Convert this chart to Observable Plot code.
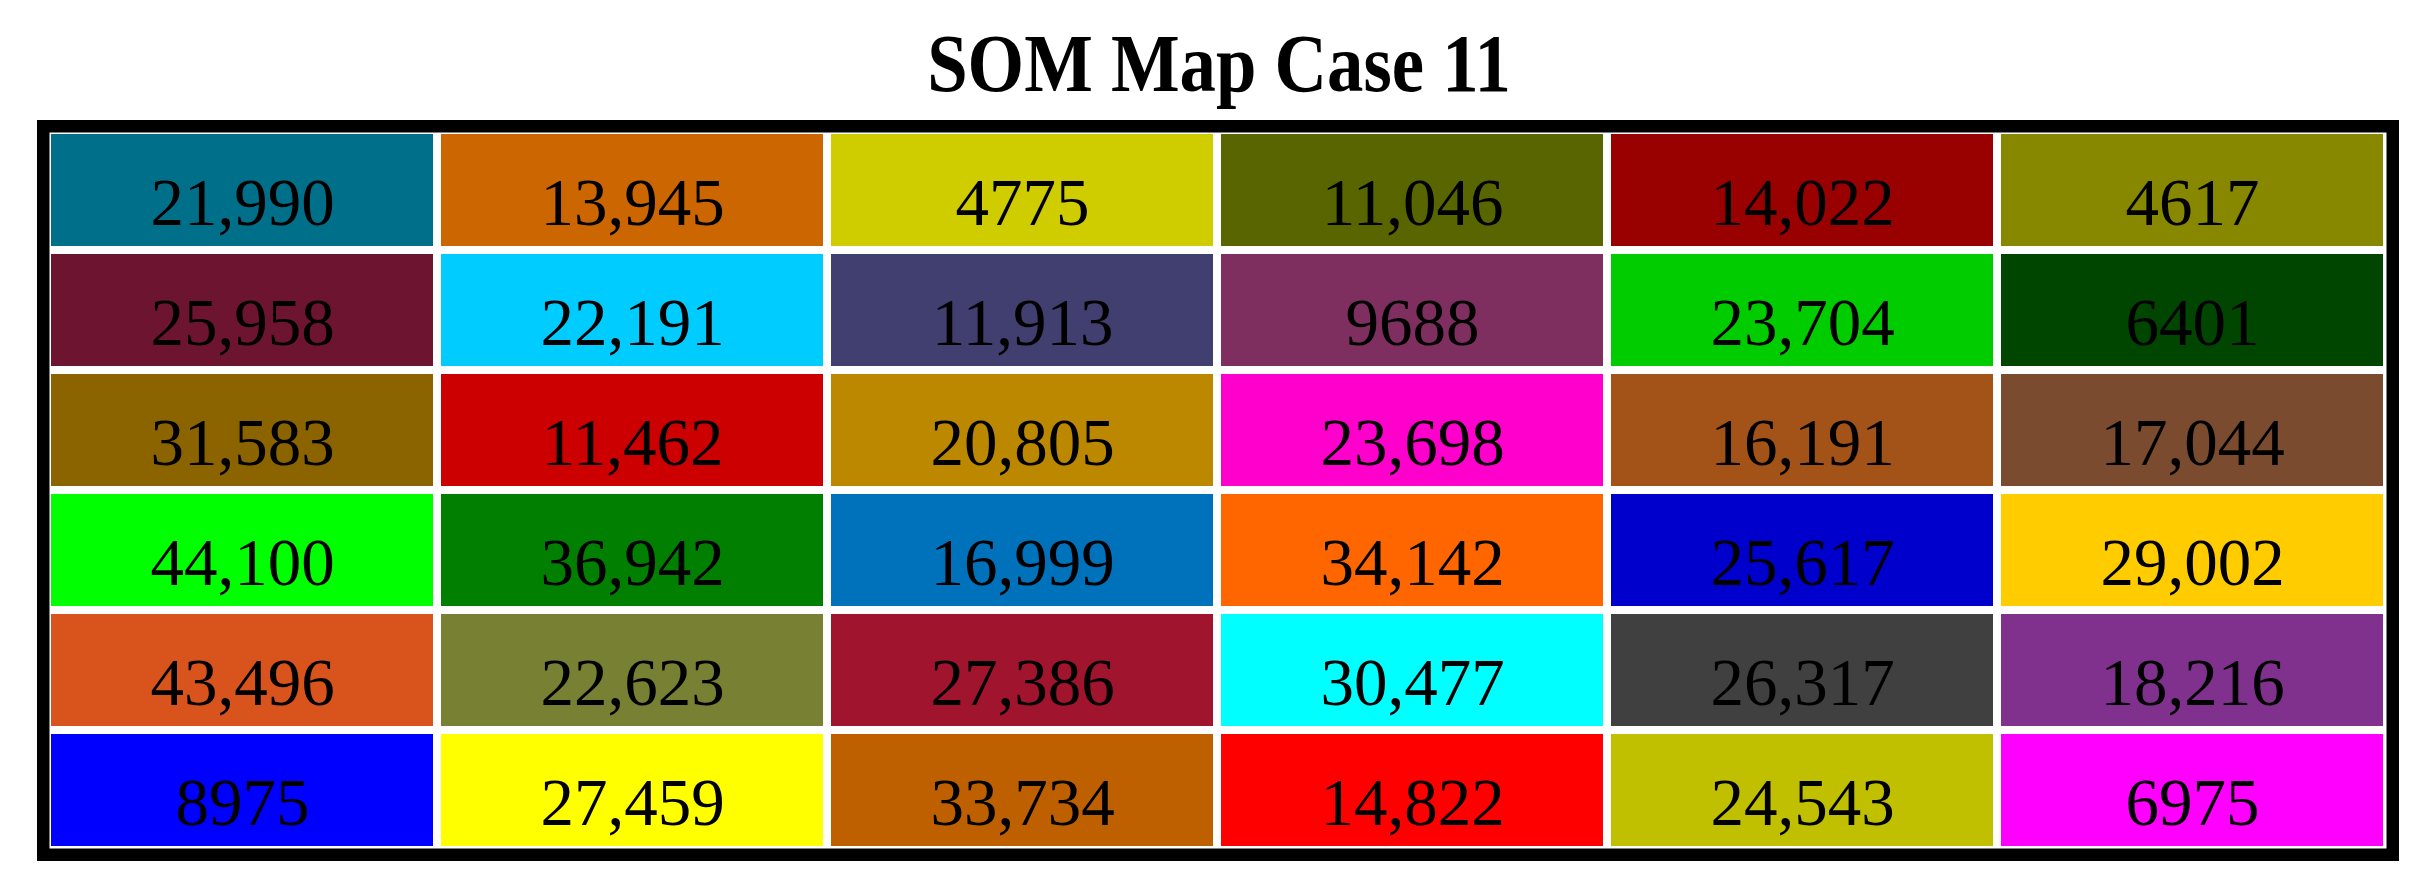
<!DOCTYPE html>
<html>
<head>
<meta charset="utf-8">
<script src="https://cdn.jsdelivr.net/npm/d3@7"></script>
<script src="https://cdn.jsdelivr.net/npm/@observablehq/plot@0.6"></script>
<style>
  html, body { margin: 0; padding: 0; background: #fff; }
  #wrap { width: 2425px; }
  #title { position: relative; height: 100px; width: 2425px; }
  #title span {
    position: absolute; left: 1219px; top: 22px;
    font-family: "Liberation Serif", "DejaVu Serif", serif;
    font-weight: bold; font-size: 83px; line-height: 1; white-space: nowrap;
    color: #000;
    transform: translateX(-50%) scaleX(0.876);
  }
  svg { display: block; }
</style>
</head>
<body>
<div id="wrap">
  <div id="title"><span>SOM Map Case 11</span></div>
  <div id="chart"></div>
</div>
<script>
const title = "SOM Map Case 11";
const rowIds = [1, 2, 3, 4, 5, 6];
const colIds = [1, 2, 3, 4, 5, 6];

const row1 = [21990, 13945, 4775, 11046, 14022, 4617];
const row2 = [25958, 22191, 11913, 9688, 23704, 6401];
const row3 = [31583, 11462, 20805, 23698, 16191, 17044];
const row4 = [44100, 36942, 16999, 34142, 25617, 29002];
const row5 = [43496, 22623, 27386, 30477, 26317, 18216];
const row6 = [8975, 27459, 33734, 14822, 24543, 6975];

const colors1 = ["#00708A", "#CC6600", "#CFCC00", "#596600", "#990000", "#888800"];
const colors2 = ["#6D1530", "#00CCFF", "#403F6F", "#7F2F5F", "#00CC00", "#004500"];
const colors3 = ["#8B6400", "#CC0000", "#BB8800", "#FF00CC", "#A35218", "#7A4B2F"];
const colors4 = ["#00FF00", "#007F00", "#0072BC", "#FF6600", "#0000CC", "#FFCC00"];
const colors5 = ["#D9541C", "#778033", "#A0142E", "#00FFFF", "#404040", "#80318D"];
const colors6 = ["#0000FF", "#FFFF00", "#BF6000", "#FF0000", "#C0C000", "#FF00FF"];

const valueRows = [row1, row2, row3, row4, row5, row6];
const colorRows = [colors1, colors2, colors3, colors4, colors5, colors6];

const table = [];
rowIds.forEach((r, i) => {
  colIds.forEach((c, j) => {
    table.push({row: r, col: c, value: valueRows[i][j], color: colorRows[i][j]});
  });
});

const fmt = v => v >= 10000 ? d3.format(",")(v) : String(v);

const chart = Plot.plot({
  width: 2425,
  height: 787,
  marginTop: 32,
  marginBottom: 39,
  marginLeft: 49,
  marginRight: 39,
  style: {background: "#fff"},
  x: {domain: colIds, paddingInner: 0.0205, paddingOuter: 0, axis: null},
  y: {domain: rowIds, paddingInner: 0.0664, paddingOuter: 0, axis: null},
  color: {type: "identity"},
  marks: [
    Plot.cell(table, {x: "col", y: "row", fill: "color"}),
    Plot.text(table, {
      x: "col", y: "row", text: d => fmt(d.value),
      fontSize: 67, fontFamily: "Liberation Serif, DejaVu Serif, serif",
      fill: "black", dy: 13
    }),
    Plot.frame({stroke: "black", strokeWidth: 12.5, inset: -6.25})
  ]
});
document.getElementById("chart").appendChild(chart);
</script>
</body>
</html>
